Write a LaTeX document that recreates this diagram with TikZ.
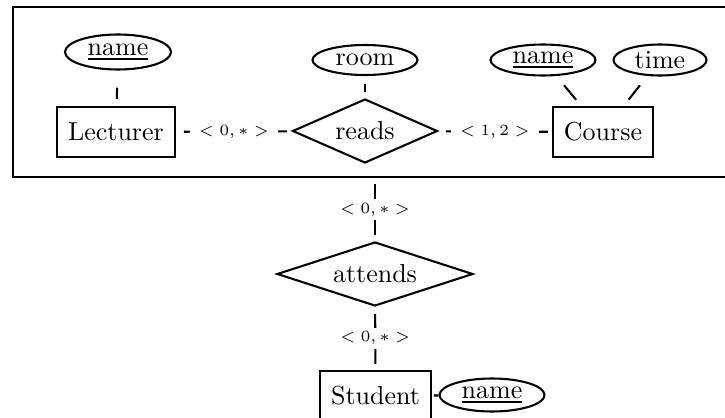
\documentclass[tikz,border=0pt]{standalone}
\usetikzlibrary{shapes.geometric}
\newlength\pu
\setlength\pu{0.3846pt}
\begin{document}
\begin{tikzpicture}[x=0.3846pt,y=-0.3846pt,
  every node/.style={line width=0.8pt},
  entity/.style={draw,rectangle,minimum height=50\pu,inner xsep=11\pu,inner ysep=0pt},
  attr/.style={draw,ellipse,inner sep=0pt,minimum width=105\pu,minimum height=31\pu},
  rel/.style={draw,diamond,aspect=3,inner sep=0pt,minimum height=64\pu},
  conn/.style={line width=0.8pt,shorten <=6\pu,shorten >=6\pu},
  card/.style={fill=white,inner xsep=3.5pt,inner ysep=1.5pt,font=\fontsize{6.4pt}{7pt}\selectfont}]
\useasboundingbox (0,0) rectangle (725,418);
\clip (0,0) rectangle (725,418);
% aggregation box
\node[draw,line width=0.9pt,rectangle,minimum width=724\pu,minimum height=170\pu,inner sep=0pt] (agg) at (375,92) {};
% nodes
\node[entity] (lect) at (116,132) {Lecturer};
\node[attr,minimum width=106\pu,minimum height=35\pu] (lname) at (118,52) {\underline{name}};
\node[rel,minimum width=145\pu] (reads) at (365,131) {reads};
\node[attr,minimum height=30\pu] (room) at (365,60) {room};
\node[entity] (course) at (603,132) {Course};
\node[attr] (cname) at (543,60) {\underline{name}};
\node[attr,minimum width=93\pu] (time) at (660,60) {time};
\node[rel,minimum width=196\pu] (attends) at (375,274) {attends};
\node[entity] (student) at (375.5,396) {Student};
\node[attr,minimum height=33\pu] (sname) at (492,395) {\underline{name}};
% attribute lines
\draw[conn,shorten <=17\pu,shorten >=7\pu] (lname) -- (lect);
\draw[conn,shorten <=8\pu] (room) -- (reads);
\draw[conn,shorten <=12\pu,shorten >=8\pu] (cname) -- (course);
\draw[conn,shorten <=12\pu,shorten >=8\pu] (time) -- (course);
\draw[conn,shorten <=2\pu,shorten >=0pt] (student) -- (sname);
% relationship lines with cardinalities
\draw[conn,shorten <=8\pu,shorten >=5\pu] (lect) -- node[card] {$<0,*>$} (reads);
\draw[conn,shorten <=8\pu,shorten >=4\pu] (reads) -- node[card] {$<1,2>$} (course);
\draw[conn] (agg) -- node[card] {$<0,*>$} (attends);
\draw[conn,shorten <=7\pu] (attends) -- node[card] {$<0,*>$} (student);
\end{tikzpicture}
\end{document}
